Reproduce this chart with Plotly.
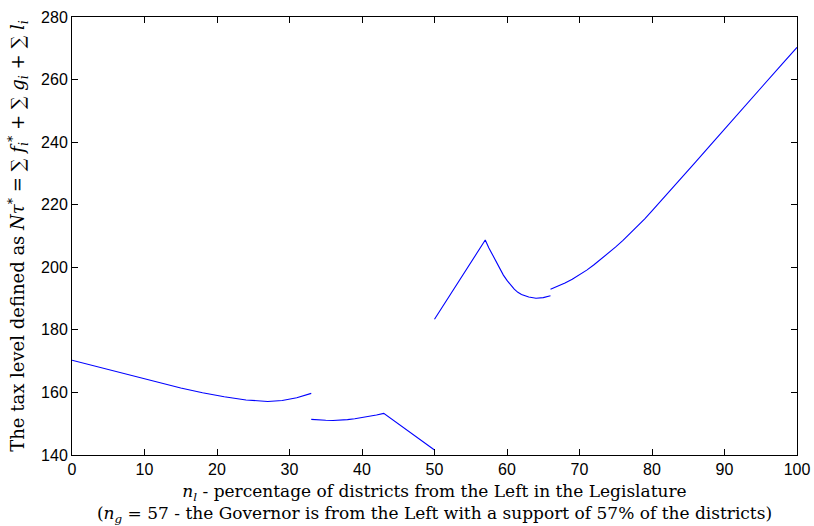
import plotly.graph_objects as go

# Segment data (x = n_l, y = tax level)
seg1_x = [0, 3, 6, 9, 12, 15, 18, 21, 24, 27, 29, 31, 33]
seg1_y = [170.3, 168.5, 166.7, 164.9, 163.1, 161.4, 159.9, 158.6, 157.6, 157.1, 157.4, 158.3, 159.7]

seg2_x = [33, 34, 35, 36, 37, 38, 39, 40, 41, 42, 43, 50]
seg2_y = [151.4, 151.2, 151.1, 151.05, 151.1, 151.3, 151.6, 151.95, 152.4, 152.8, 153.3, 141.6]

seg3_x = [50, 57, 57.5, 58, 58.5, 59, 59.5, 60, 60.5, 61, 61.5, 62, 63, 64, 65, 66]
seg3_y = [183.4, 208.7, 206.2, 203.9, 201.6, 199.5, 197.5, 195.8, 194.3, 193.0, 192.0, 191.3,
          190.5, 190.1, 190.3, 190.9]

seg4_x = [66, 67, 68, 69, 70, 71, 72, 73, 74, 75, 76, 77, 78, 79, 80, 82, 84, 86, 88, 90, 92, 94, 96, 98, 100]
seg4_y = [193.0, 193.9, 195.0, 196.2, 197.6, 199.1, 200.8, 202.6, 204.5, 206.5, 208.6, 210.8,
          213.1, 215.5, 218.0, 223.1, 228.3, 233.6, 238.9, 244.2, 249.4, 254.7, 259.9, 265.1, 270.3]

x_ticks = [0, 10, 20, 30, 40, 50, 60, 70, 80, 90, 100]
y_ticks = [140, 160, 180, 200, 220, 240, 260, 280]

fig = go.Figure()
for xs, ys in [(seg1_x, seg1_y), (seg2_x, seg2_y), (seg3_x, seg3_y), (seg4_x, seg4_y)]:
    fig.add_trace(go.Scatter(x=xs, y=ys, mode="lines",
                             line=dict(color="rgb(0,0,255)", width=1.1),
                             showlegend=False, hoverinfo="skip"))

serif = "DejaVu Serif, serif"
axis_common = dict(showline=True, linecolor="black", linewidth=1, mirror="ticks",
                   ticks="inside", ticklen=6, tickcolor="black", tickwidth=1,
                   showgrid=False, zeroline=False, automargin=False,
                   tickfont=dict(family="Liberation Sans, Arial, sans-serif", size=16, color="black"))

fig.update_layout(
    width=814, height=526,
    margin=dict(l=72, r=17, t=17, b=71),
    paper_bgcolor="white", plot_bgcolor="white",
    xaxis=dict(range=[0, 100], tickvals=x_ticks, **axis_common,
               title=dict(text="<i>n<sub>l</sub></i> - percentage of districts from the Left in the Legislature<br>"
                               "(<i>n<sub>g</sub></i> = 57 - the Governor is from the Left with a support of 57% of the districts)",
                          font=dict(family=serif, size=17, color="black"), standoff=9)),
    yaxis=dict(range=[140, 280], tickvals=y_ticks, **axis_common,
               title=dict(text="The tax level defined as <i>N</i><i>τ</i><sup>*</sup> = ∑ <i>f</i><sub><i>i</i></sub><sup>*</sup> + ∑ <i>g</i><sub><i>i</i></sub> + ∑ <i>l</i><sub><i>i</i></sub>",
                          font=dict(family=serif, size=18, color="black"), standoff=11)),
)

fig.write_html("out.html")
